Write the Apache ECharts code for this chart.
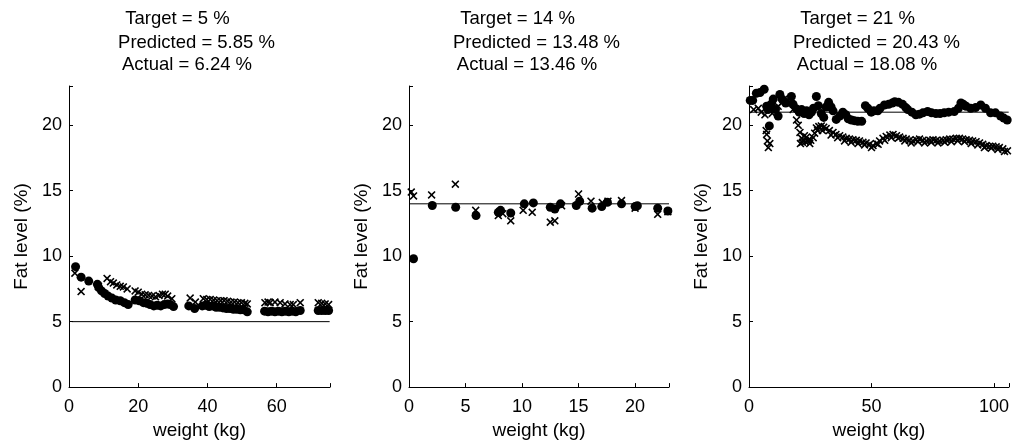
<!DOCTYPE html>
<html>
<head>
<meta charset="utf-8">
<script src="https://cdn.jsdelivr.net/npm/echarts@6/dist/echarts.min.js"></script>
<style>
html,body{margin:0;padding:0;background:#fff;}
#chart{width:1012px;height:445px;}
</style>
</head>
<body>
<div id="chart"></div>
<script>
// ---------- DATA ----------
const titles1 = ['Target = 5 %', 'Predicted = 5.85 %', 'Actual = 6.24 %'];
const titles2 = ['Target = 14 %', 'Predicted = 13.48 %', 'Actual = 13.46 %'];
const titles3 = ['Target = 21 %', 'Predicted = 20.43 %', 'Actual = 18.08 %'];
const targets = [5, 14, 21];
const xMaxes = [75.4, 23, 106.1];
const xIntervals = [20, 5, 50];
const targetLineX = [[0.8, 75.3], [0, 23], [0.3, 106]];
const yTicks = [0, 5, 10, 15, 20];
const xName = 'weight (kg)';
const yName = 'Fat level (%)';

// panel 1 (target 5 %)
const pred1 = [[1.9,9.2],[3.5,8.4],[5.7,8.1],[8.2,7.85],[8.6,7.6],[9.4,7.35],[10.3,7.15],[11.3,6.95],[12.4,6.8],[13.5,6.65],[14.8,6.6],[16.0,6.45],[17.1,6.3],
[19.1,6.65],[20.3,6.6],[21.5,6.45],[22.5,6.4],[23.4,6.3],[24.5,6.2],[25.5,6.25],[26.5,6.2],[27.5,6.3],[28.5,6.35],[29.3,6.3],[30.2,6.15],
[34.6,6.2],[36.3,6.0],[38.5,6.2],[39.5,6.25],[40.5,6.15],[41.5,6.2],[42.5,6.1],[43.5,6.1],[44.5,6.05],[45.5,6.0],[46.5,6.0],[47.5,5.95],[48.5,5.95],[49.5,5.9],[50.5,5.9],[51.5,5.75],
[56.5,5.8],[57.5,5.75],[58.5,5.8],[59.5,5.75],[60.5,5.8],[61.5,5.75],[62.5,5.8],[63.5,5.75],[64.5,5.8],[65.5,5.75],[66.8,5.85],
[72.0,5.85],[73.0,5.85],[74.0,5.85],[75.0,5.85]];
const act1 = [[1.7,8.7],[3.5,7.3],[8.5,7.7],[11.0,8.3],[12.0,8.05],[12.8,7.95],[13.8,7.8],[14.8,7.7],[15.7,7.65],[16.8,7.5],[19.1,7.35],[20.0,7.25],[21.0,7.1],[22.0,7.05],[23.0,7.0],[24.0,6.95],[25.0,6.9],[26.0,7.0],[27.0,7.1],[27.8,7.1],[28.5,6.95],[29.7,6.75],
[35.0,6.8],[36.5,6.5],[38.8,6.75],[39.8,6.7],[40.8,6.7],[41.8,6.65],[42.8,6.6],[43.8,6.6],[44.8,6.6],[45.8,6.55],[46.8,6.5],[47.8,6.5],[48.8,6.45],[49.8,6.45],[50.8,6.4],[51.5,6.35],
[56.6,6.45],[57.5,6.5],[58.1,6.45],[59.5,6.5],[61.0,6.45],[62.4,6.35],[63.9,6.3],[64.8,6.3],[66.8,6.45],
[72.0,6.45],[73.0,6.4],[74.0,6.35],[75.0,6.3]];

// panel 2 (target 14 %)
const pred2 = [[0.4,9.8],[2.06,13.87],[4.13,13.74],[5.93,13.1],[7.9,13.35],[8.1,13.5],[9.0,13.3],[10.2,14.0],[11.0,14.07],[12.5,13.74],[12.9,13.6],[13.4,14.0],[14.8,13.87],[15.1,14.2],[16.2,13.67],[17.05,13.79],[17.55,14.12],[18.8,14.0],[20.0,13.79],[20.2,13.85],[22.0,13.67],[22.9,13.45]];
const act2 = [[0.2,14.9],[0.4,14.6],[2.0,14.68],[4.1,15.5],[5.9,13.5],[7.9,13.1],[8.3,13.25],[9.0,12.7],[10.1,13.5],[10.9,13.35],[12.5,12.6],[12.9,12.7],[13.5,13.85],[15.0,14.75],[16.1,14.2],[17.1,14.1],[17.6,14.2],[18.8,14.25],[20.0,13.67],[22.0,13.2],[22.9,13.4]];

// panel 3 (target 21 %)
const pred3 = [[0.5,21.9],[1.5,21.9],[3.0,22.45],[4.5,22.5],[6.2,22.75],[7.2,21.45],[7.8,21.2],[8.3,19.95],[9.0,21.6],[9.9,22.0],[10.8,21.2],[11.9,20.7],[12.6,22.35],[13.5,22.0],[15.0,21.7],[17.3,22.2],[18.0,21.6],[19.4,21.25],[20.5,21.0],[21.5,21.2],[22.5,20.9],[23.5,21.1],[24.5,20.8],[25.5,21.0],[26.3,21.3],[27.5,22.2],[28.3,21.5],[29.5,20.9],[30.5,20.6],[31.5,21.4],[32.5,21.75],[33.5,21.4],[34.3,21.1],[35.6,20.45],[37.0,20.7],[38.3,21.0],[39.5,20.8],[40.5,20.5],[41.8,20.4],[43.0,20.35],[44.4,20.3],[46.0,20.3],[47.5,21.5],[48.5,21.3],[49.9,21.0],[51.0,21.1],[52.6,21.1],[53.5,21.3],[55.3,21.55],[57.0,21.6],[58.5,21.7],[59.5,21.8],[61.0,21.75],[62.7,21.6],[64.0,21.35],[64.8,21.2],[66.5,21.0],[68.1,20.8],[69.6,20.85],[71.0,20.95],[72.9,21.05],[74.5,20.95],[76.3,20.9],[78.0,20.9],[79.7,20.95],[81.5,21.0],[83.8,21.05],[85.5,21.3],[86.5,21.7],[87.5,21.6],[88.6,21.45],[90.5,21.3],[92.5,21.35],[94.6,21.55],[96.5,21.3],[98.6,20.95],[100.6,20.95],[102.7,20.7],[104.0,20.55],[105.4,20.4]];
const act3 = [[1.9,21.2],[3.8,21.3],[5.0,21.0],[6.5,20.8],[7.0,19.6],[7.2,19.3],[7.5,18.8],[7.9,18.3],[8.5,18.6],[9.5,20.9],[10.5,21.3],[11.9,21.45],[13.3,21.7],[14.6,22.05],[15.8,21.9],[16.7,21.8],[18.0,21.2],[19.4,20.4],[20.1,20.0],[20.8,19.45],[21.5,19.0],[21.8,18.7],[22.1,18.9],[23.0,18.75],[23.5,19.1],[24.1,18.8],[24.8,18.6],[25.2,18.85],[26.2,19.05],[27.5,19.8],[28.5,19.9],[29.5,19.95],[30.5,19.85],[31.5,19.75],[32.8,19.6],[34.3,19.45],[35.5,19.3],[37.0,19.2],[38.3,19.1],[39.7,19.0],[41.0,18.95],[42.4,18.9],[43.8,18.85],[45.1,18.8],[46.5,18.7],[47.8,18.65],[49.2,18.55],[50.6,18.45],[52.0,18.6],[53.3,18.8],[54.7,19.0],[56.0,19.15],[57.5,19.25],[58.8,19.3],[60.2,19.2],[61.5,19.1],[62.9,19.0],[64.2,18.95],[65.5,18.85],[66.9,18.8],[68.2,18.9],[69.6,18.95],[71.0,18.85],[72.4,18.8],[73.8,18.85],[75.1,18.9],[76.5,18.85],[77.8,18.8],[79.2,18.85],[80.5,18.9],[81.9,18.95],[83.2,18.95],[84.6,19.0],[85.9,19.0],[87.2,18.95],[88.6,18.9],[90.0,18.85],[91.3,18.8],[92.7,18.75],[94.1,18.65],[95.4,18.55],[96.8,18.45],[98.2,18.4],[99.5,18.4],[100.9,18.35],[102.2,18.3],[103.6,18.2],[105.5,18.05],
[21.0,18.6],[22.6,19.2],[24.4,18.9],[26.8,19.4],[28.0,19.6],[30.0,19.6],[33.5,19.25],[36.2,19.05],[39.0,18.8],[41.7,18.7],[44.5,18.6],[47.2,18.5],[50.0,18.3],[52.7,18.55],[55.4,18.85],[58.1,19.05],[60.9,19.0],[63.6,18.8],[66.2,18.65],[69.0,18.75],[71.7,18.65],[74.4,18.7],[77.1,18.65],[79.9,18.7],[82.6,18.75],[85.2,18.8],[88.0,18.75],[90.7,18.6],[93.4,18.5],[96.1,18.3],[98.9,18.25],[101.6,18.15],[104.3,18.0]];

// ---------- CHART ----------
const FONT = '"Liberation Sans", Arial, Helvetica, sans-serif';
const panelLefts = [69, 409, 749];
const panelWidths = [261, 260, 261];
const gridTop = 86, gridHeight = 303;
const allTitles = [titles1, titles2, titles3];
const preds = [pred1, pred2, pred3];
const acts = [act1, act2, act3];
const titleCx = [108.5, 127.5, 118];
const titleCy = [18.5, 42.5, 65];
const crossPath = 'path://M0,1.4L1.4,0L5,3.6L8.6,0L10,1.4L6.4,5L10,8.6L8.6,10L5,6.4L1.4,10L0,8.6L3.6,5Z';

const grids = [], xAxes = [], yAxes = [], series = [], graphics = [];
for (let i = 0; i < 3; i++) {
  grids.push({left: panelLefts[i], top: gridTop, width: panelWidths[i], height: gridHeight, containLabel: false});
  const xi = xIntervals[i];
  xAxes.push({
    type: 'value', gridIndex: i, min: 0, max: xMaxes[i], interval: xi,
    name: xName, nameLocation: 'middle', nameGap: 32,
    nameTextStyle: {fontFamily: FONT, fontSize: 19, color: '#000'},
    axisLine: {show: true, onZero: false, lineStyle: {color: '#000', width: 1}},
    axisTick: {show: true, inside: true, length: 4, lineStyle: {color: '#000'}},
    axisLabel: {fontFamily: FONT, fontSize: 18, color: '#000', margin: 11,
      formatter: v => (Math.abs(v / xi - Math.round(v / xi)) < 1e-6 ? String(v) : '')},
    splitLine: {show: false}
  });
  yAxes.push({
    type: 'value', gridIndex: i, min: 0, max: 23, interval: 5,
    name: yName, nameLocation: 'middle', nameGap: 38, nameRotate: 90,
    nameTextStyle: {fontFamily: FONT, fontSize: 19, color: '#000'},
    axisLine: {show: true, onZero: false, lineStyle: {color: '#000', width: 1}},
    axisTick: {show: true, inside: true, length: 4, lineStyle: {color: '#000'}},
    axisLabel: {fontFamily: FONT, fontSize: 18, color: '#000', margin: 7,
      formatter: v => (yTicks.indexOf(v) >= 0 ? String(v) : '')},
    splitLine: {show: false}
  });
  series.push({
    type: 'scatter', xAxisIndex: i, yAxisIndex: i, data: acts[i],
    symbol: crossPath, symbolSize: 8, itemStyle: {color: '#000', opacity: 1}, silent: true, z: 2
  });
  series.push({
    type: 'scatter', xAxisIndex: i, yAxisIndex: i, data: preds[i],
    symbol: 'circle', symbolSize: 9, itemStyle: {color: '#000', opacity: 1}, silent: true, z: 3
  });
  series.push({
    type: 'line', xAxisIndex: i, yAxisIndex: i,
    data: [[targetLineX[i][0], targets[i]], [targetLineX[i][1], targets[i]]],
    symbol: 'none', lineStyle: {color: '#000', width: 1}, silent: true, z: 4
  });
  for (let k = 0; k < 3; k++) {
    graphics.push({
      type: 'text', x: panelLefts[i] + titleCx[k], y: titleCy[k], silent: true,
      style: {text: allTitles[i][k], font: '18.5px ' + FONT, fill: '#000',
        align: 'center', verticalAlign: 'middle', textAlign: 'center', textVerticalAlign: 'middle'}
    });
  }
}

const chart = echarts.init(document.getElementById('chart'), null, {renderer: 'canvas'});
chart.setOption({
  animation: false,
  backgroundColor: '#fff',
  grid: grids, xAxis: xAxes, yAxis: yAxes, series: series,
  graphic: graphics
});
</script>
</body>
</html>
